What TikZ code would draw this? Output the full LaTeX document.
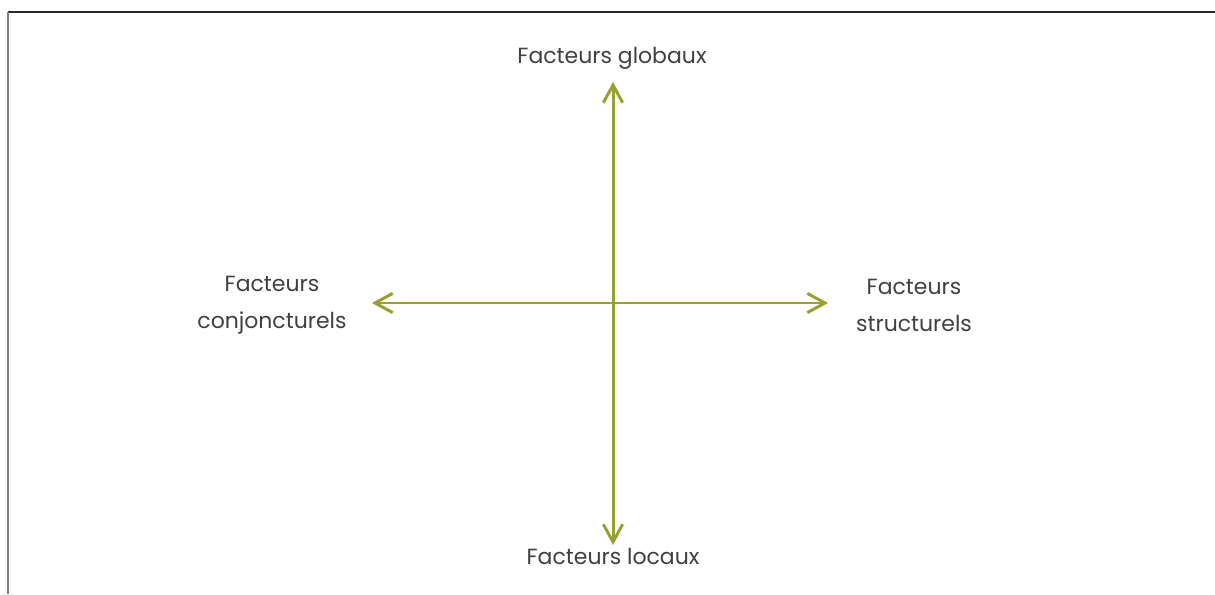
\documentclass[tikz,border=0pt]{standalone}
\usepackage{fontspec}
\setmainfont{Poppins}
\usepackage{tikz}
\usetikzlibrary{arrows.meta, positioning}
\definecolor{axiscol}{RGB}{152,160,48}
\definecolor{framecol}{RGB}{40,40,40}

\begin{document}
\begin{tikzpicture}[
  font=\fontsize{12.5}{21}\selectfont,
  lbl/.style={align=center, text=black!75, inner sep=0pt},
  axis/.style={-{Straight Barb[length=10pt, width=11pt]}, line width=1.7pt, axiscol}
]
  \useasboundingbox (0,0) rectangle (24.3,11.88);
  % frame (top and left only)
  \draw[framecol, line width=1pt] (0.16,11.64) -- (24.3,11.64);
  \draw[black!50, line width=1.2pt] (0.16,11.64) -- (0.16,0);

  % labels
  \node[lbl] (glob) at (12.24,10.72) {Facteurs globaux};
  \node[lbl] (loc) at (12.26,0.76) {Facteurs locaux};
  \node[lbl] (conj) at (5.44,5.78) {Facteurs\\conjoncturels};
  \node[lbl] (struc) at (18.28,5.78) {Facteurs\\structurels};

  % axes
  \coordinate (o) at (12.26,5.82);
  \coordinate (n) at (12.26,10.24);
  \coordinate (s) at (12.26,0.98);
  \coordinate (w) at (7.44,5.82);
  \coordinate (e) at (16.56,5.82);
  \draw[axis] (o) -- (n);
  \draw[axis] (o) -- (s);
  \draw[axis] (o) -- (w);
  \draw[axis] (o) -- (e);
\end{tikzpicture}
\end{document}
